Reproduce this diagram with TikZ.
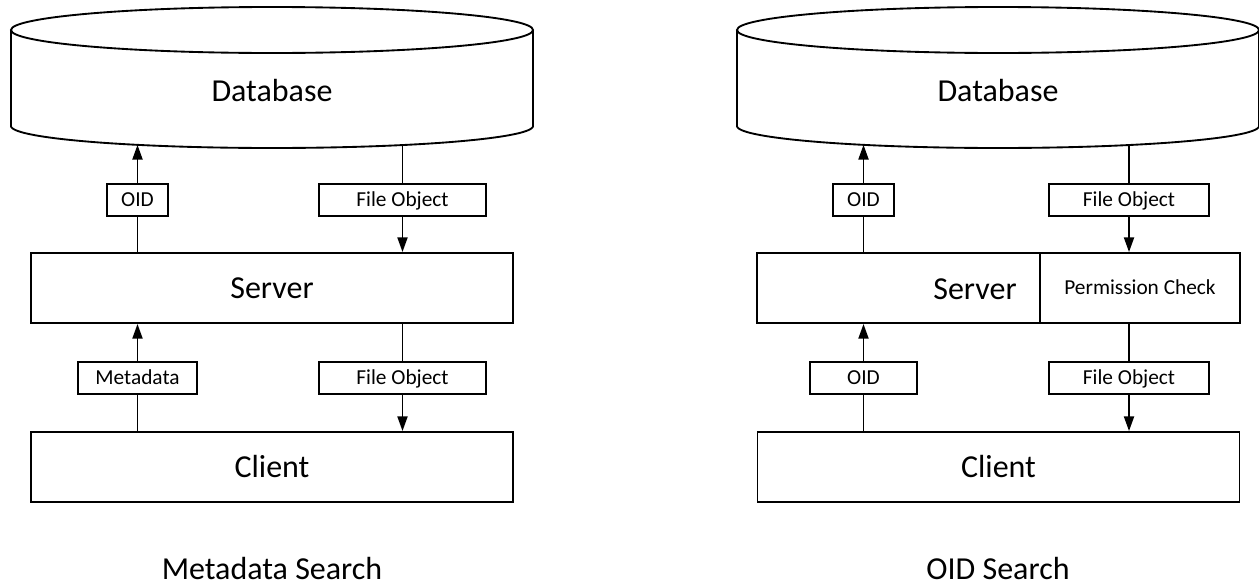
\documentclass[tikz,border=0pt]{standalone}
\usepackage{fontspec}
\setmainfont{Carlito}
\usetikzlibrary{arrows.meta}
\begin{document}
\begin{tikzpicture}[x=0.75pt,y=-0.75pt,
  line width=1.4pt,
  box/.style={draw, line width=1.4pt, fill=white, inner sep=0pt},
  big/.style={font=\fontsize{24}{28}\selectfont, text height=15.5pt, text depth=0pt},
  small/.style={font=\fontsize{16}{19}\selectfont, text height=10.3pt, text depth=0pt},
  lbl/.style={box, small, minimum height=24pt},
  tier/.style={box, big, minimum width=361.5pt, minimum height=52.5pt},
  flow/.style={-{Triangle[length=11pt,width=7.5pt]}},
  drum/.pic={
    \draw (-261,30) -- plot[domain=180:0, samples=120]
          ({261*cos(\x)},{126+22*sin(\x)}) -- (261,30);
    \draw (0,30) ellipse [x radius=261, y radius=23];
  }]
\useasboundingbox (0,0) rectangle (1259,582);

% ---------------- Metadata search ----------------
\pic at (272,0) {drum};
\node[big] (dbL) at (272,91) {Database};
\coordinate (dbL-oid)  at (137.5,{126+22*sqrt(1-(134.5/261)^2)});
\coordinate (dbL-file) at (402.5,{126+22*sqrt(1-(130.5/261)^2)});

\node[tier] (srvL) at (272,288) {Server};
\node[tier] (cliL) at (272,467) {Client};

\node[lbl, minimum width=45.75pt]  (oidL)   at (137.5,200) {OID};
\node[lbl, minimum width=125.25pt] (fileL1) at (402.5,200) {File Object};
\node[lbl, minimum width=89.25pt]  (metaL)  at (137.5,378) {Metadata};
\node[lbl, minimum width=125.25pt] (fileL2) at (402.5,378) {File Object};

\draw (srvL.north -| oidL) -- (oidL.south);
\draw[flow] (oidL.north) -- (dbL-oid);
\draw (dbL-file) -- (fileL1.north);
\draw[flow] (fileL1.south) -- (fileL1 |- srvL.north);
\draw (cliL.north -| metaL) -- (metaL.south);
\draw[flow] (metaL.north) -- (metaL |- srvL.south);
\draw (srvL.south -| fileL2) -- (fileL2.north);
\draw[flow] (fileL2.south) -- (fileL2 |- cliL.north);

\node[big] (titleL) at (272,569) {Metadata Search};

% ---------------- OID search ----------------
\pic at (998,0) {drum};
\node[big] (dbR) at (998,91) {Database};
\coordinate (dbR-oid)  at (863.5,{126+22*sqrt(1-(134.5/261)^2)});
\coordinate (dbR-file) at (1129,{126+22*sqrt(1-(131/261)^2)});

\node[box, minimum width=362.25pt, minimum height=52.5pt] (srvR) at (998.5,288) {};
\node[box, small, minimum width=150pt, minimum height=52.5pt] (permR) at (1140,288) {Permission Check};
\node[big] (srvRtext) at (975,289) {Server};
\node[tier] (cliR) at (998.5,467) {Client};

\node[lbl, minimum width=45.75pt]  (oidR1)  at (863.5,200) {OID};
\node[lbl, minimum width=120pt]    (fileR1) at (1129,200)  {File Object};
\node[lbl, minimum width=80.25pt]  (oidR2)  at (863.5,378) {OID};
\node[lbl, minimum width=120pt]    (fileR2) at (1129,378)  {File Object};

\draw (srvR.north -| oidR1) -- (oidR1.south);
\draw[flow] (oidR1.north) -- (dbR-oid);
\draw (dbR-file) -- (fileR1.north);
\draw[flow] (fileR1.south) -- (fileR1 |- srvR.north);
\draw (cliR.north -| oidR2) -- (oidR2.south);
\draw[flow] (oidR2.north) -- (oidR2 |- srvR.south);
\draw (srvR.south -| fileR2) -- (fileR2.north);
\draw[flow] (fileR2.south) -- (fileR2 |- cliR.north);

\node[big] (titleR) at (998,569) {OID Search};
\end{tikzpicture}
\end{document}
